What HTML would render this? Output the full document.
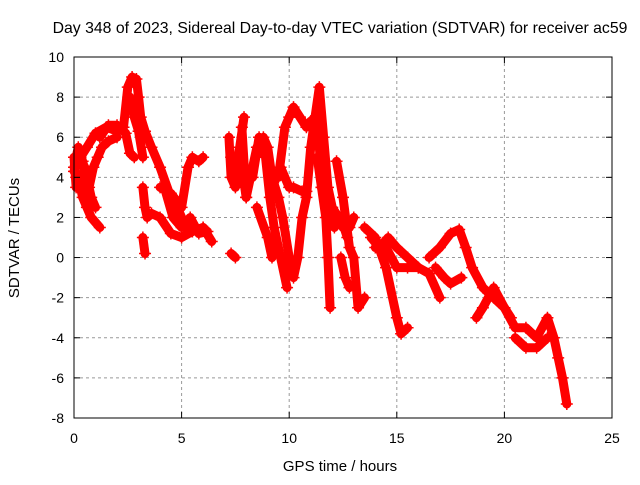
<!DOCTYPE html>
<html><head><meta charset="utf-8"><style>
body{margin:0;background:#fff}
svg text{font-family:"Liberation Sans",sans-serif;font-size:14px;fill:#000}
</style></head><body>
<svg id="chart" width="640" height="480" xmlns="http://www.w3.org/2000/svg">
<rect width="640" height="480" fill="#fff"/>
<text x="340" y="33" text-anchor="middle" style="font-size:15.8px">Day 348 of 2023, Sidereal Day-to-day VTEC variation (SDTVAR) for receiver ac59</text>
<text x="340" y="471" text-anchor="middle" style="font-size:15px">GPS time / hours</text>
<text transform="translate(19,238) rotate(-90)" text-anchor="middle" style="font-size:15px">SDTVAR / TECUs</text>
<g id="grid"></g><g id="marks"></g><g id="axes"></g>
</svg>
<script>
const xTicks=[0,5,10,15,20,25];
const yTicks=[-8,-6,-4,-2,0,2,4,6,8,10];
const tracks=[
[[0,4.3],[0.3,5],[0.6,5.5],[1,6.2],[1.5,6.5],[2,6.3],[2.3,6.5],[2.5,8.5],[2.7,9],[2.9,8.9],[3.0,8],[3.1,7],[3.3,6.3],[3.6,5.5],[4,4.5],[4.5,3],[4.8,2.5],[5,2],[5.2,1.5],[5.5,1.3],[6,1.5],[6.4,0.8]],
[[0,5],[0.1,3.5],[0.2,4],[0.4,3],[0.6,2.5],[0.8,2],[1.2,1.5]],
[[0.1,4],[0.3,3.5],[0.5,4.5],[0.7,3.5],[0.9,4.5],[1.1,5],[1.3,5.5],[1.6,5.8],[2,6]],
[[0,4.5],[0.2,5.5],[0.4,4.8],[0.6,4],[0.8,3],[1,2.5]],
[[1.2,6],[1.6,6.6],[2,6.6],[2.4,6.2],[2.6,5.2],[2.8,5]],
[[2.6,8],[2.8,7],[3.0,6.3],[3.2,5]],
[[3.2,3.5],[3.3,2.5],[3.4,2],[3.6,2.2],[4,2],[4.5,1.2],[5,1],[5.5,1.3],[6,1.5]],
[[3.2,1],[3.3,0.2]],
[[4,3.5],[4.5,3.2],[5,2.5],[5.3,4.5],[5.5,5],[5.8,4.8],[6,5]],
[[4.2,3.5],[4.6,2],[5,1.5],[5.4,2],[5.8,1.2],[6.2,1.3]],
[[7.3,0.2],[7.5,0]],
[[7.2,6],[7.3,4],[7.5,3.5],[7.8,4.5],[8,3],[7.8,6.5]],
[[7.3,5],[7.5,4.5],[7.7,5.5],[7.9,7]],
[[8,3],[8.5,5.5],[8.8,6],[9,5.5],[9.2,4],[9.5,3],[9.7,2],[10,0],[10.2,-1],[10.4,0],[10.6,2],[10.8,3],[11,5.5],[11.2,7],[11.4,8.5],[11.6,6],[11.8,3.5],[12,2.5],[12.3,2],[12.5,1.5],[12.8,1.5],[13,2]],
[[8.3,4],[8.6,6],[8.9,5],[9.1,3],[9.3,1.5],[9.6,0],[9.9,-1.5]],
[[8.5,2.5],[9,1],[9.2,0]],
[[9.5,4],[9.8,6.5],[10,7],[10.2,7.5],[10.5,7],[10.8,6.5],[11,6.8],[11.3,7],[11.5,4]],
[[9.6,4.5],[10,3.5],[10.2,3.5],[10.6,3.3],[10.8,3.3]],
[[11.3,5],[11.5,3.5],[11.7,2],[11.8,0],[11.9,-2.5]],
[[11.5,3.5],[11.8,2.5],[12.1,1.5],[12.4,2],[12.7,1]],
[[12.2,4.8],[12.5,3],[12.8,0.5],[13,0],[13.2,-2.5],[13.5,-2]],
[[12.4,0],[12.6,-1],[12.8,-1.5]],
[[13.5,1.5],[14,1],[14.5,-0.5],[15,-3],[15.2,-3.8],[15.5,-3.5]],
[[14,0.5],[14.5,0.5],[15,-0.5],[15.5,-0.5],[16,-0.5],[16.5,-0.8],[17,-2]],
[[13.8,1],[14.2,0.5],[14.6,1],[15,0.5],[15.5,0],[16,-0.5]],
[[16.5,0],[17,0.5],[17.5,1.2],[17.9,1.4],[18.2,0.5],[18.5,-0.5],[19,-1.5],[19.5,-2],[20,-2.5],[20.3,-3]],
[[16.8,-0.5],[17.2,-1],[17.5,-1.3],[18,-1]],
[[18.7,-3],[19,-2.5],[19.5,-1.5],[20,-2.5],[20.5,-3.5],[21,-3.5],[21.5,-4],[22,-3],[22.3,-4],[22.5,-5],[22.7,-6],[22.9,-7.3]],
[[20.5,-4],[21,-4.5],[21.5,-4.5],[22,-4]]
];
const X0=74,X1=612,Y0=418,Y1=57;
const xs=v=>X0+(v-0)/(25-0)*(X1-X0);
const ys=v=>Y0-(v+8)/(18)*(Y0-Y1);
const NS="http://www.w3.org/2000/svg";
function mk(t,a,p){const e=document.createElementNS(NS,t);for(const k in a)e.setAttribute(k,a[k]);p.appendChild(e);return e;}
const grid=document.getElementById('grid'),axes=document.getElementById('axes'),marks=document.getElementById('marks');
xTicks.forEach(t=>{
 if(t>0&&t<25){const g=mk('line',{x1:xs(t),x2:xs(t),y1:Y1,y2:Y0,stroke:'#999','stroke-dasharray':'3,3'},grid);
 
 }
 mk('line',{x1:xs(t),x2:xs(t),y1:Y0,y2:Y0-6,stroke:'#000'},axes);
 mk('line',{x1:xs(t),x2:xs(t),y1:Y1,y2:Y1+6,stroke:'#000'},axes);
 const l=mk('text',{x:xs(t),y:Y0+25,'text-anchor':'middle'},axes);l.textContent=t;
 
 
});
yTicks.forEach(t=>{
 if(t>-8&&t<10){const g=mk('line',{x1:X0,x2:X1,y1:ys(t),y2:ys(t),stroke:'#999','stroke-dasharray':'3,3'},grid);
 
 }
 mk('line',{x1:X0,x2:X0+6,y1:ys(t),y2:ys(t),stroke:'#000'},axes);
 mk('line',{x1:X1,x2:X1-6,y1:ys(t),y2:ys(t),stroke:'#000'},axes);
 const l=mk('text',{x:X0-10,y:ys(t)+5,'text-anchor':'end'},axes);l.textContent=t;
 
 
});
const fr=mk('rect',{x:X0,y:Y1,width:X1-X0,height:Y0-Y1,fill:'none',stroke:'#000'},axes);


tracks.forEach(tr=>{
 const pl=mk('polyline',{points:tr.map(p=>xs(p[0])+','+ys(p[1])).join(' '),fill:'none',stroke:'#f00','stroke-width':9,'stroke-linejoin':'round','stroke-linecap':'round'},marks);
 
 
 tr.forEach(p=>{
  const m=mk('path',{d:`M${xs(p[0])-6},${ys(p[1])}h12M${xs(p[0])},${ys(p[1])-6}v12`,stroke:'#f00','stroke-width':1.5},marks);
  
  
 });
});
</script>
</body></html>
